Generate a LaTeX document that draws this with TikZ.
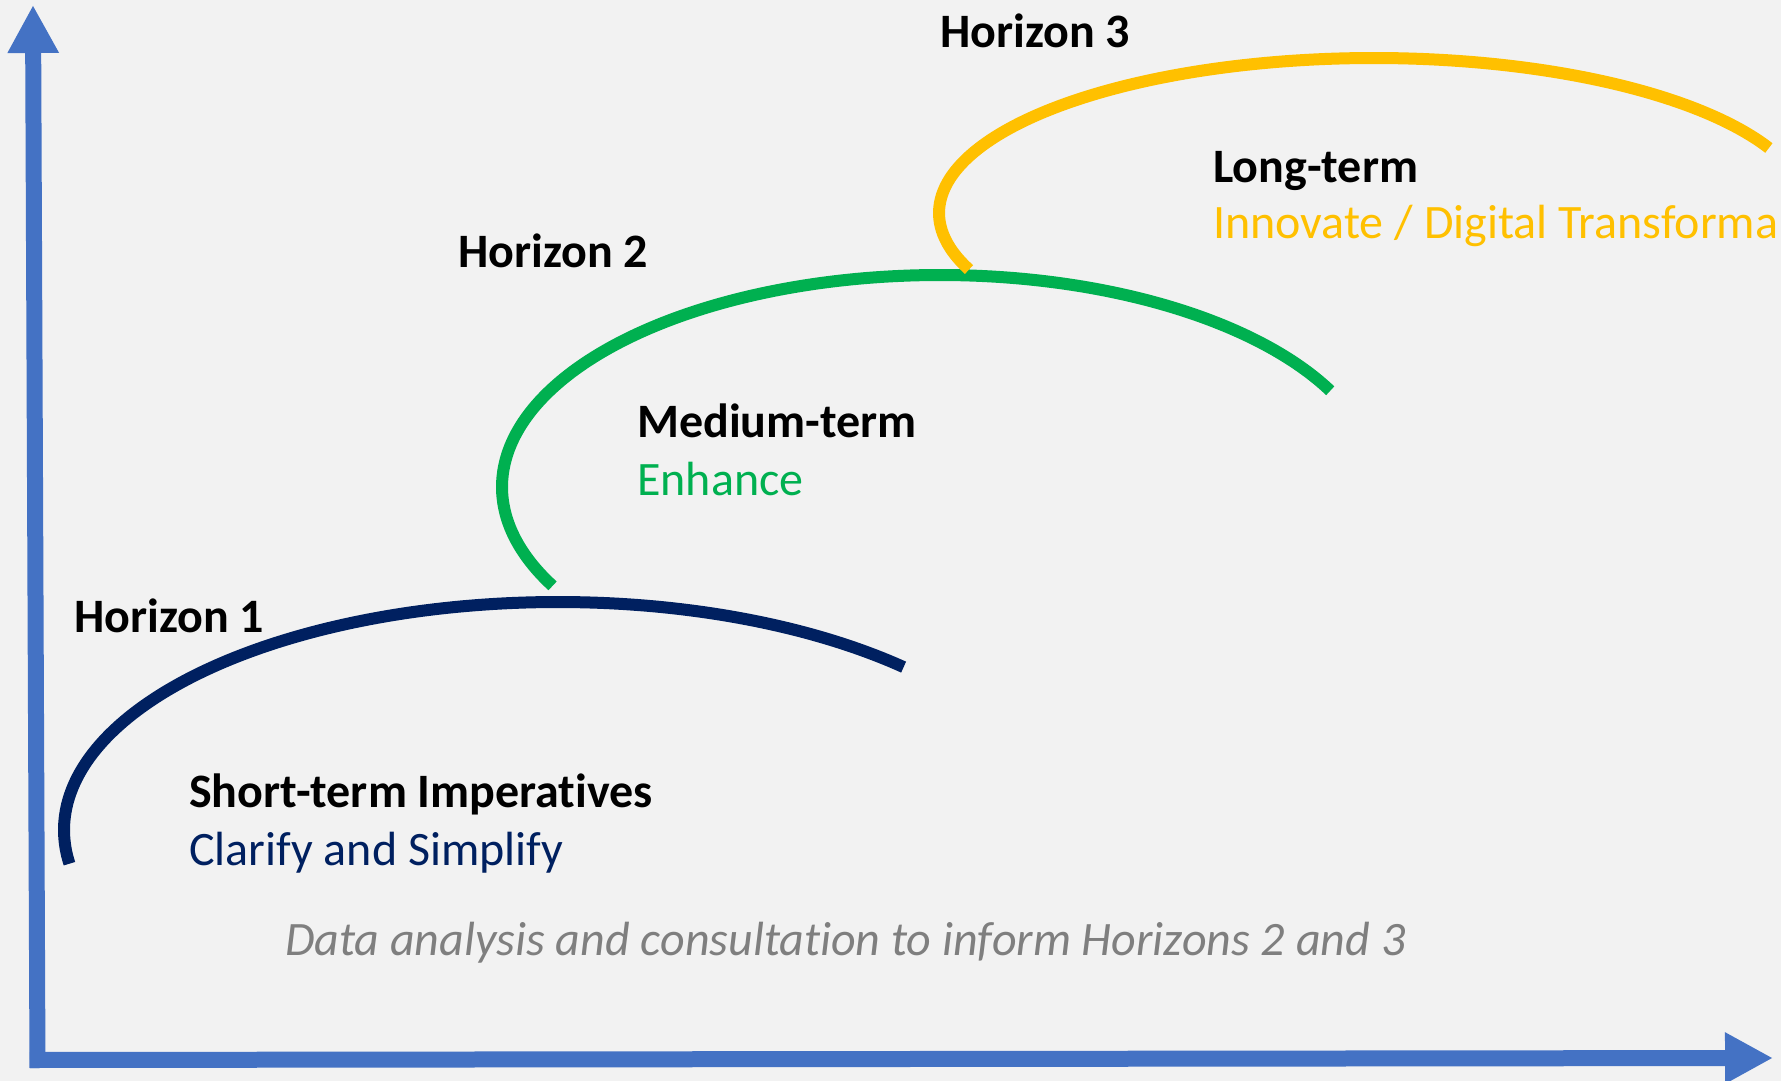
\documentclass[tikz,border=0pt]{standalone}
\usepackage{fontspec}
\setmainfont{Carlito}[RawFeature={-liga;-clig;-calt;-dlig}]
\usetikzlibrary{arrows.meta}
\definecolor{bgc}{HTML}{F2F2F2}
\definecolor{navyc}{HTML}{002060}
\definecolor{greenc}{HTML}{00B050}
\definecolor{yellowc}{HTML}{FFC000}
\definecolor{axisc}{HTML}{4472C4}
\definecolor{grayc}{HTML}{7F7F7F}
\newcommand{\nolig}{\kern0pt }
\tikzset{
  axisline/.style={draw=axisc, line width=16pt, -{Triangle[length=48pt,width=48pt]}},
  arcline/.style={line width=12pt},
  lbl/.style={anchor=base west, inner sep=0pt, font=\fontsize{48}{57}\selectfont},
  bold lbl/.style={lbl, font=\fontsize{48}{57}\selectfont\bfseries},
}
\begin{document}
\begin{tikzpicture}[x=1pt,y=-1pt]
\fill[bgc] (0,0) rectangle (1781,1081);
\useasboundingbox (0,0) rectangle (1781,1081);
\clip (0,0) rectangle (1781,1081);
% axes
\coordinate (ybase) at (37.5,1068);
\coordinate (ytip) at (33,5);
\coordinate (xbase) at (30,1060);
\coordinate (xtip) at (1773,1058);
\draw[axisline] (ybase) -- (ytip);
\draw[axisline] (xbase) -- (xtip);
% arcs
\draw[arcline, navyc] plot[domain=171.5:314.4, samples=120, smooth] ({558+494*cos(\x)}, {830+228*sin(\x)});
\draw[arcline, greenc] plot[domain=152.2:333, samples=120, smooth] ({940+438*cos(\x)}, {487+212*sin(\x)});
\draw[arcline, yellowc] plot[domain=158.6:335.2, samples=120, smooth] ({1374+435*cos(\x)}, {213+155*sin(\x)});
% labels
\node[bold lbl] (h1) at (74,632) {Horizon 1};
\node[bold lbl] (h2) at (458,267) {Horizon 2};
\node[bold lbl] (h3) at (940,48) {Horizon 3};
\node[bold lbl] (st) at (189,807) {Short-term Imperat\nolig ives};
\node[lbl, text=navyc] (cs) at (189,865) {Clarify and Simplify};
\node[bold lbl] (mt) at (637,437) {Medium-term};
\node[lbl, text=greenc] (en) at (637,495) {Enhance};
\node[bold lbl] (lt) at (1213,182) {Long-term};
\node[lbl, text=yellowc] (in) at (1213,238) {Innovate / Digital Transforma};
\node[lbl, text=grayc, font=\fontsize{48}{57}\selectfont\itshape] (da) at (285,955) {Data analysis and consultat\nolig ion to inform Horizons 2 and 3};
\end{tikzpicture}
\end{document}
